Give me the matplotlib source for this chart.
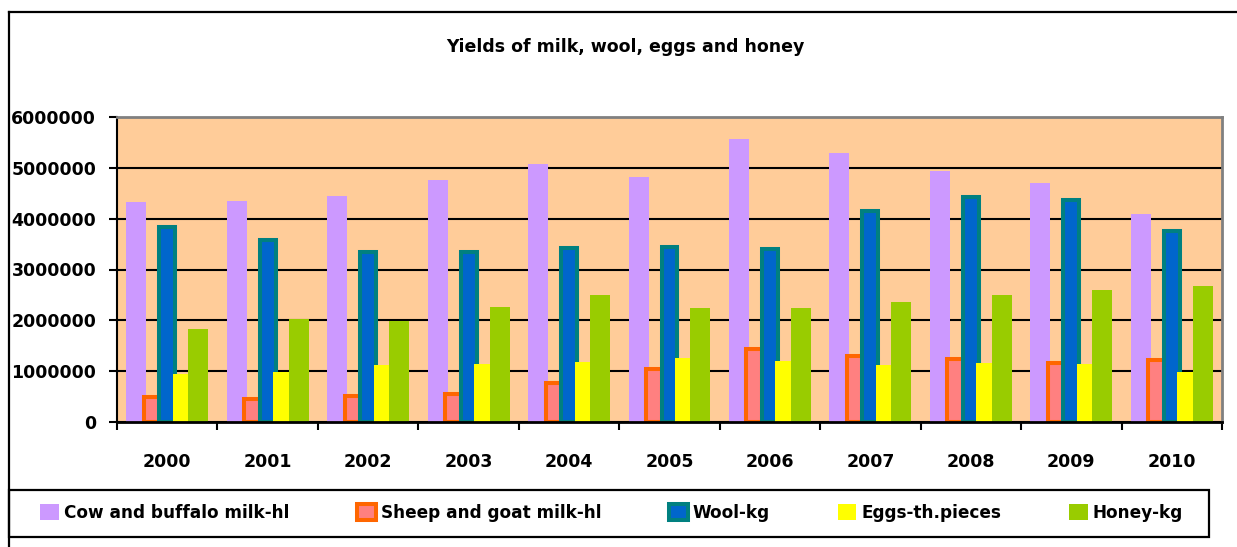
import matplotlib.pyplot as plt
import numpy as np
from matplotlib.patches import Rectangle
from matplotlib.lines import Line2D

years = ['2000', '2001', '2002', '2003', '2004', '2005',
         '2006', '2007', '2008', '2009', '2010']
cow_milk = [4320000, 4340000, 4450000, 4760000, 5080000, 4820000,
            5570000, 5290000, 4940000, 4700000, 4090000]
sheep_milk = [490000, 460000, 510000, 560000, 770000, 1050000,
              1430000, 1290000, 1240000, 1170000, 1220000]
wool = [3840000, 3580000, 3340000, 3340000, 3420000, 3440000,
        3400000, 4160000, 4430000, 4360000, 3760000]
eggs = [940000, 980000, 1120000, 1150000, 1180000, 1250000,
        1200000, 1120000, 1160000, 1150000, 980000]
honey = [1830000, 2020000, 1990000, 2270000, 2500000, 2250000,
         2250000, 2370000, 2500000, 2590000, 2680000]

labels = ['Cow and buffalo milk-hl', 'Sheep and goat milk-hl', 'Wool-kg',
          'Eggs-th.pieces', 'Honey-kg']

W, H = 1237, 547
fig = plt.figure(figsize=(W / 100, H / 100), dpi=100)
plt.rcParams['font.family'] = 'DejaVu Sans'
fs = 12.5

ax = fig.add_axes([117 / W, (H - 422) / H, (1222 - 117) / W, (422 - 117) / H])
ax.set_facecolor('#FFCC99')

x = np.arange(len(years))
step = 0.154
wfull = 0.199
wedge = 0.159
b1 = ax.bar(x - 2 * step, cow_milk, wfull, color='#CC99FF', linewidth=0)
b2 = ax.bar(x - step, sheep_milk, wedge, color='#FF8080', edgecolor='#FF6600', linewidth=2.9)
b3 = ax.bar(x, wool, wedge, color='#0066CC', edgecolor='#008080', linewidth=2.9)
b4 = ax.bar(x + step, eggs, wfull, color='#FFFF00', linewidth=0)
b5 = ax.bar(x + 2 * step, honey, wfull, color='#99CC00', linewidth=0)

ax.set_xlim(-0.5, len(years) - 0.5)
ax.set_ylim(0, 6000000)
ax.set_yticks(np.arange(0, 6000001, 1000000))
ax.set_yticklabels([str(v) for v in range(0, 6000001, 1000000)],
                   fontsize=fs, fontweight='bold')
ax.yaxis.grid(True, color='black', linewidth=1.5)
ax.set_axisbelow(True)

# year labels sit on minor ticks, category boundaries get the tick marks
ax.set_xticks(np.arange(-0.5, len(years), 1.0))
ax.set_xticklabels([])
ax.set_xticks(x, minor=True)
ax.set_xticklabels(years, minor=True, fontsize=fs, fontweight='bold')
ax.tick_params(axis='x', which='major', direction='out', length=5.5, width=1.5)
ax.tick_params(axis='x', which='minor', length=0, pad=22)
ax.tick_params(axis='y', direction='out', length=6, width=1.5, pad=9)

ax.spines['left'].set_linewidth(1.5)
ax.spines['bottom'].set_linewidth(2)
ax.spines['top'].set_color('#808080')
ax.spines['right'].set_color('#808080')
ax.spines['top'].set_linewidth(2)
ax.spines['right'].set_linewidth(2)

fig.text(625 / W, (H - 47) / H, 'Yields of milk, wool, eggs and honey',
         ha='center', va='center', fontsize=fs, fontweight='bold')

# chart frame: top and left edges
fig.add_artist(Line2D([9 / W, 1.0], [(H - 12) / H, (H - 12) / H], color='black', linewidth=1.6))
fig.add_artist(Line2D([9 / W, 9 / W], [0, (H - 12) / H], color='black', linewidth=1.6))

# legend box
fig.add_artist(Rectangle((9 / W, (H - 537) / H), (1209 - 9) / W, 47 / H,
                         transform=fig.transFigure, fill=False,
                         edgecolor='black', linewidth=1.6))
leg = fig.legend([b1, b2, b3, b4, b5], labels, loc='center left',
                 bbox_to_anchor=(40 / W, (H - 513) / H), ncol=5, frameon=False,
                 borderpad=0, borderaxespad=0, handlelength=1.1, handleheight=1.1,
                 handletextpad=0.3, columnspacing=4.0,
                 prop={'size': 12.2, 'weight': 'bold'})

fig.savefig('out.png', dpi=100)
